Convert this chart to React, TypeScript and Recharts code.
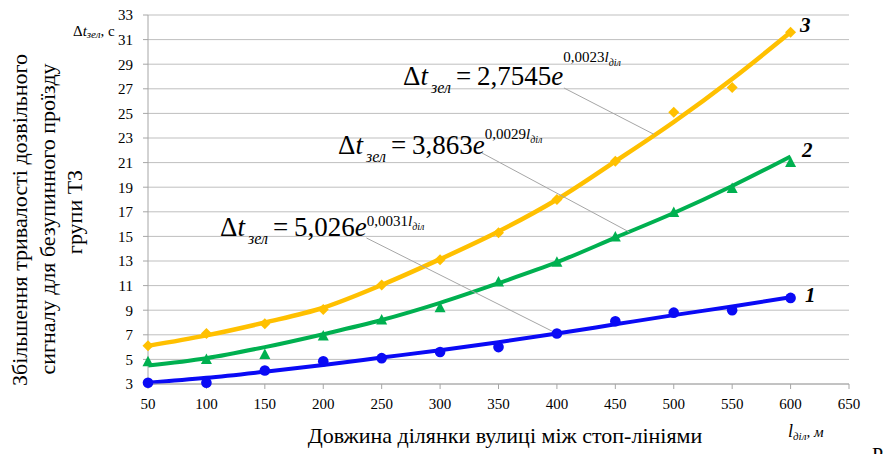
import React from 'react';
import {
  ComposedChart,
  Line,
  XAxis,
  YAxis,
  CartesianGrid,
  ReferenceLine,
} from 'recharts';

const SERIF = 'Liberation Serif';

// street section length between stop lines, m
const lengths = [50, 100, 150, 200, 250, 300, 350, 400, 450, 500, 550, 600];

// measured increase of green time, s
const measured1 = [3.1, 3.1, 4.1, 4.85, 5.1, 5.6, 6.0, 7.1, 8.1, 8.8, 9.0, 10.0];
const measured2 = [4.8, 5.0, 5.4, 6.9, 8.2, 9.2, 11.3, 12.9, 14.95, 16.95, 18.9, 21.0];
const measured3 = [6.1, 7.1, 7.9, 9.05, 11.05, 13.1, 15.3, 18.0, 21.1, 25.1, 27.1, 31.6];

// exponential trend lines
const trend1 = [3.1, 3.5, 4.0, 4.55, 5.15, 5.75, 6.4, 7.1, 7.85, 8.6, 9.3, 10.05];
const trend2 = [4.5, 5.1, 6.0, 7.05, 8.2, 9.6, 11.2, 12.9, 14.9, 16.9, 19.1, 21.5];
const trend3 = [6.1, 6.95, 8.0, 9.2, 11.05, 13.15, 15.4, 18.0, 21.1, 24.3, 27.8, 31.6];

const xTicks = [50, 100, 150, 200, 250, 300, 350, 400, 450, 500, 550, 600, 650];
const yTicks = [3, 5, 7, 9, 11, 13, 15, 17, 19, 21, 23, 25, 27, 29, 31, 33];

const equations = [
  { coef: '2,7545', pow: '0,0023', x: 403, y: 86, rise: 23 },
  { coef: '3,863', pow: '0,0029', x: 338, y: 155, rise: 15 },
  { coef: '5,026', pow: '0,0031', x: 220, y: 237, rise: 10 },
];

// leader lines from the equations to their curves (data coordinates)
const leaders = [
  [{ x: 406, y: 27.07 }, { x: 483, y: 23.3 }],
  [{ x: 335.5, y: 21.8 }, { x: 462, y: 15.35 }],
  [{ x: 237, y: 14.87 }, { x: 400, y: 7.1 }],
];

const BLUE = '#0a0af5';
const GREEN = '#00b050';
const YELLOW = '#ffc000';

const rows = lengths.map((x, i) => ({
  x,
  m1: measured1[i],
  m2: measured2[i],
  m3: measured3[i],
  t1: trend1[i],
  t2: trend2[i],
  t3: trend3[i],
}));

const circleDot = (p: any) => (
  <circle key={`c-${p.index}`} cx={p.cx} cy={p.cy} r={5.3} fill={BLUE} />
);
const triangleDot = (p: any) => (
  <path
    key={`t-${p.index}`}
    d={`M${p.cx},${p.cy - 6}L${p.cx + 5.5},${p.cy + 4.5}L${p.cx - 5.5},${p.cy + 4.5}Z`}
    fill={GREEN}
  />
);
const diamondDot = (p: any) => (
  <path
    key={`d-${p.index}`}
    d={`M${p.cx},${p.cy - 5.5}L${p.cx + 5.5},${p.cy}L${p.cx},${p.cy + 5.5}L${p.cx - 5.5},${p.cy}Z`}
    fill={YELLOW}
  />
);

const fontCss = `
#root svg text, #root svg tspan { font-family: "Liberation Serif" !important; }
.lbl, .lbl * { font-family: "Liberation Serif", serif; }
`;

// html label placed by its text baseline
function Label({ x, baseline, size, center, style, children }: any) {
  return (
    <div
      className="lbl"
      style={{
        position: 'absolute',
        left: x,
        top: baseline - 0.8375 * size,
        fontSize: size,
        lineHeight: `${size}px`,
        whiteSpace: 'nowrap',
        color: '#000',
        transform: center ? 'translateX(-50%)' : undefined,
        ...style,
      }}
    >
      {children}
    </div>
  );
}

// rotated axis title line, centred on (cx, cy)
function VLabel({ cx, cy, size, children }: any) {
  const w = 420;
  return (
    <div
      className="lbl"
      style={{
        position: 'absolute',
        left: cx - w / 2,
        top: cy - size / 2,
        width: w,
        fontSize: size,
        lineHeight: `${size}px`,
        textAlign: 'center',
        whiteSpace: 'nowrap',
        transform: 'rotate(-90deg)',
        transformOrigin: '50% 50%',
      }}
    >
      {children}
    </div>
  );
}

function Equation({ coef, pow, x, y, rise }: typeof equations[number]) {
  return (
    <>
      <Label x={x} baseline={y} size={27}>Δ<i>t</i></Label>
      <Label x={x + 28} baseline={y + 7} size={16}><i>зел</i></Label>
      <Label x={x + 53} baseline={y} size={27}>=</Label>
      <Label x={x + 74} baseline={y} size={27}>
        {coef}<i>e</i>
        <span style={{ fontSize: 15, lineHeight: 1, position: 'relative', top: -rise }}>
          {pow}<i>l</i>
          <i style={{ fontSize: 10, lineHeight: 1, position: 'relative', top: 4 }}>діл</i>
        </span>
      </Label>
    </>
  );
}

export default function App() {
  const tickStyle = { fontFamily: SERIF, fontSize: 15, fill: '#000' };
  const numStyle = { fontWeight: 'bold', fontStyle: 'italic' };
  return (
    <div style={{ position: 'absolute', left: 0, top: 0, width: 886, height: 454, background: '#fff', overflow: 'hidden' }}>
      <style>{fontCss}</style>
      <ComposedChart
        width={886}
        height={454}
        data={rows}
        margin={{ top: 15, right: 37, bottom: 40, left: 98 }}
      >
        <CartesianGrid vertical={false} stroke="#bfbfbf" strokeWidth={1} />
        <XAxis
          dataKey="x"
          type="number"
          domain={[50, 650]}
          ticks={xTicks}
          height={30}
          tickSize={5}
          tickMargin={9}
          stroke="#a6a6a6"
          tick={tickStyle}
          interval={0}
        />
        <YAxis
          type="number"
          domain={[3, 33]}
          ticks={yTicks}
          width={50}
          tickSize={5}
          tickMargin={10}
          stroke="#a6a6a6"
          tick={tickStyle}
          interval={0}
        />
        <Line dataKey="m1" stroke="none" dot={circleDot} activeDot={false} isAnimationActive={false} />
        <Line dataKey="m2" stroke="none" dot={triangleDot} activeDot={false} isAnimationActive={false} />
        <Line dataKey="m3" stroke="none" dot={diamondDot} activeDot={false} isAnimationActive={false} />
        <Line type="monotone" dataKey="t3" stroke={YELLOW} strokeWidth={4.5} dot={false} activeDot={false} isAnimationActive={false} />
        <Line type="monotone" dataKey="t2" stroke={GREEN} strokeWidth={4} dot={false} activeDot={false} isAnimationActive={false} />
        <Line type="monotone" dataKey="t1" stroke={BLUE} strokeWidth={4} dot={false} activeDot={false} isAnimationActive={false} />
        {leaders.map((seg, i) => (
          <ReferenceLine key={i} segment={seg} stroke="#a6a6a6" strokeWidth={1} ifOverflow="visible" />
        ))}
      </ComposedChart>

      {equations.map((eq) => (
        <Equation key={eq.coef} {...eq} />
      ))}

      <Label x={800} baseline={33} size={21} style={numStyle}>3</Label>
      <Label x={802} baseline={158} size={21} style={numStyle}>2</Label>
      <Label x={805} baseline={303} size={21} style={numStyle}>1</Label>

      <Label x={73} baseline={37} size={15}>
        Δ<i>t</i>
        <i style={{ fontSize: 11, lineHeight: 1, position: 'relative', top: 2 }}>зел</i>, с
      </Label>

      <Label x={788} baseline={437} size={18}>
        <i>l</i>
        <i style={{ fontSize: 11, lineHeight: 1, position: 'relative', top: 3 }}>діл</i>
        <i style={{ fontSize: 15, lineHeight: 1 }}>, м</i>
      </Label>

      <Label x={505} baseline={443} size={22} center>
        Довжина ділянки вулиці між стоп-лініями
      </Label>

      <VLabel cx={20} cy={220} size={22}>Збільшення тривалості дозвільного</VLabel>
      <VLabel cx={48} cy={219} size={22}>сигналу для безупинного проїзду</VLabel>
      <VLabel cx={75} cy={212} size={22}>групи ТЗ</VLabel>

      <Label x={872} baseline={462} size={20}>Р</Label>
    </div>
  );
}
